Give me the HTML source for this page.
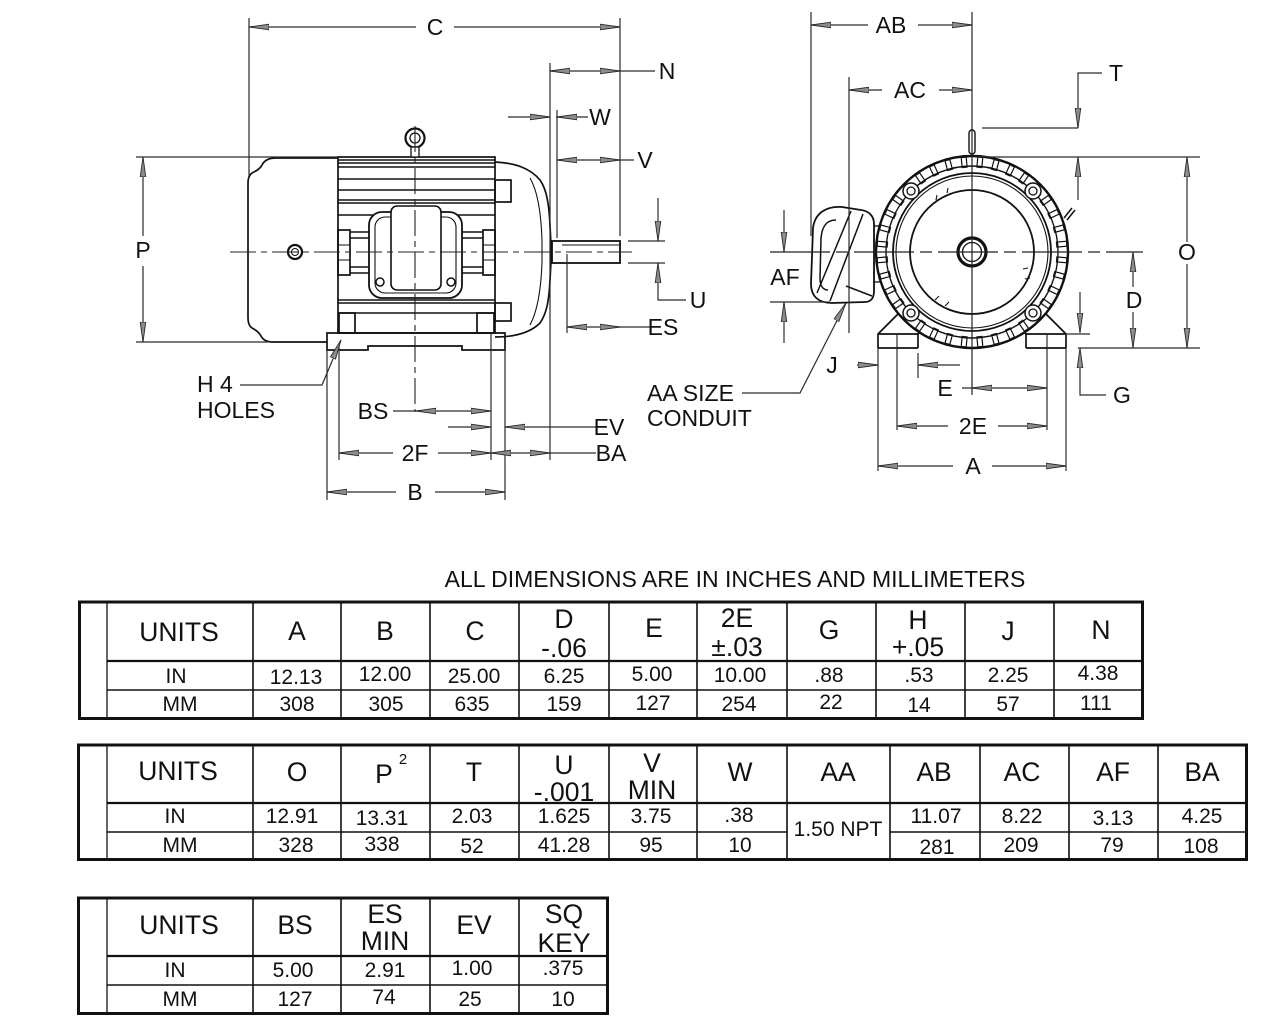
<!DOCTYPE html>
<html><head><meta charset="utf-8"><style>
html,body{margin:0;padding:0;background:#fff;}
svg{display:block;}
text{font-family:"Liberation Sans",Arial,sans-serif;fill:#111;}
.l{font-size:23px;text-anchor:middle;}
.ls{font-size:23px;text-anchor:start;}
.h{font-size:26.5px;text-anchor:middle;}
.d{font-size:21px;text-anchor:middle;}
.a{fill:none;stroke:none;marker-end:url(#ar);}
.dm{stroke:#2a2a2a;stroke-width:1.2;fill:none;}
.mo{stroke:#111;stroke-width:1.7;fill:none;}
.cl{stroke:#222;stroke-width:1.1;fill:none;stroke-dasharray:26 5 6 5;}
.tb{stroke:#111;fill:none;}
</style></head><body>
<svg width="1280" height="1027" viewBox="0 0 1280 1027" xmlns="http://www.w3.org/2000/svg">
<defs>
<marker id="ar" markerUnits="userSpaceOnUse" markerWidth="21" markerHeight="8" viewBox="0 0 21 8" refX="20" refY="4" orient="auto"><path d="M0,1.2 L20,4 L0,6.8 Z" fill="#8c8c8c" stroke="#2a2a2a" stroke-width="0.9"/></marker>
<rect id="fin" x="969.5" y="157" width="5" height="10" fill="#fff" stroke="#111" stroke-width="1.2"/>
</defs>

<!-- ================= SIDE VIEW ================= -->
<path class="mo" d="M338,158 L276,158 C268,158 264,161 262,165 C260,169 256,171 252,173 C249,175 248,178 248,183 L248,318 C248,323 249,326 252,328 C256,330 259,332 261,336 C263,340 267,342 273,342 L327,342"/>
<circle cx="295" cy="252" r="7" stroke="#111" stroke-width="2.2" fill="#fff"/>
<circle cx="295" cy="252" r="3.5" stroke="#111" stroke-width="1" fill="none"/>
<rect x="338" y="157" width="157" height="176" class="mo" stroke-width="2.2"/>
<g stroke="#111" stroke-width="1.4">
<line x1="338" y1="160" x2="495" y2="160"/>
<line x1="338" y1="163" x2="495" y2="163"/>
<line x1="338" y1="167" x2="495" y2="167"/>
<line x1="338" y1="179" x2="495" y2="179"/>
<line x1="338" y1="190" x2="495" y2="190"/>
<line x1="338" y1="200" x2="495" y2="200"/>
<line x1="338" y1="203" x2="495" y2="203"/>
<line x1="338" y1="215" x2="495" y2="215"/>
<line x1="338" y1="300" x2="495" y2="300"/>
<line x1="338" y1="303" x2="495" y2="303"/>
<line x1="338" y1="313" x2="495" y2="313"/>
<line x1="350" y1="232" x2="370" y2="232"/>
<line x1="350" y1="238" x2="370" y2="238"/>
<line x1="350" y1="267" x2="370" y2="267"/>
<line x1="350" y1="273" x2="370" y2="273"/>
<line x1="460" y1="232" x2="483" y2="232"/>
<line x1="460" y1="238" x2="483" y2="238"/>
<line x1="460" y1="267" x2="483" y2="267"/>
<line x1="460" y1="273" x2="483" y2="273"/>
</g>
<rect x="338" y="230" width="12" height="45" class="mo" stroke-width="1.3"/>
<line x1="338" y1="245" x2="350" y2="245" stroke="#111"/><line x1="338" y1="260" x2="350" y2="260" stroke="#111"/>
<rect x="483" y="230" width="12" height="45" class="mo" stroke-width="1.3"/>
<line x1="483" y1="245" x2="495" y2="245" stroke="#111"/><line x1="483" y1="260" x2="495" y2="260" stroke="#111"/>
<rect x="369" y="212" width="93" height="86" rx="13" fill="#fff" stroke="#111" stroke-width="1.8"/>
<rect x="375" y="217" width="81" height="76" rx="10" fill="none" stroke="#111" stroke-width="1.1"/>
<rect x="391" y="206" width="50" height="84" rx="6" fill="#fff" stroke="#111" stroke-width="1.6"/>
<circle cx="380" cy="282" r="4" stroke="#111" stroke-width="1.5" fill="#fff"/>
<circle cx="451" cy="282" r="4" stroke="#111" stroke-width="1.5" fill="#fff"/>
<rect x="339" y="313" width="16" height="20" class="mo" stroke-width="1.3"/>
<rect x="477" y="313" width="17" height="20" class="mo" stroke-width="1.3"/>
<path class="mo" d="M495,162 C515,163 530,168 540,180 C547,190 549,205 550,225 L551,245 L551,262 L550,280 C549,300 547,313 540,323 C530,333 515,337 495,337"/>
<path stroke="#111" stroke-width="1.1" fill="none" d="M530,178 C537,190 541,210 542,240 L542,262 C541,292 537,312 530,325"/>
<rect x="495" y="180" width="16" height="22" class="mo" stroke-width="1.3"/>
<rect x="495" y="303" width="16" height="18" class="mo" stroke-width="1.3"/>
<rect x="552" y="241" width="68" height="22" fill="#fff" stroke="#111" stroke-width="1.8"/>
<line x1="562" y1="245" x2="620" y2="245" stroke="#111" stroke-width="1.1"/>
<path class="mo" stroke-width="1.8" d="M327,333 H505 V350 H462 V346 H368 V350 H327 Z"/>
<circle cx="415" cy="138" r="9.5" fill="#fff" stroke="#111" stroke-width="2.2"/>
<circle cx="415" cy="138" r="5" fill="none" stroke="#111" stroke-width="1.3"/>
<rect x="411" y="147" width="8" height="10" fill="#fff" stroke="#111" stroke-width="1.3"/>

<line class="cl" x1="230" y1="252" x2="632" y2="252"/>
<line class="cl" x1="415" y1="126" x2="415" y2="412"/>

<g class="dm">
<line x1="249" y1="18" x2="249" y2="176"/>
<line x1="620" y1="18" x2="620" y2="236"/>
<line x1="249" y1="27" x2="416" y2="27"/><line x1="454" y1="27" x2="620" y2="27"/>
<line x1="550" y1="63" x2="550" y2="460"/>
<line x1="550" y1="71" x2="655" y2="71"/>
<line x1="508" y1="117" x2="550" y2="117"/><line x1="556" y1="117" x2="588" y2="117"/>
<line x1="557" y1="110" x2="557" y2="238"/>
<line x1="557" y1="160" x2="634" y2="160"/>
<line x1="628" y1="241" x2="665" y2="241"/><line x1="628" y1="263" x2="665" y2="263"/>
<line x1="658" y1="198" x2="658" y2="241"/>
<polyline points="658,263 658,300 686,300"/>
<line x1="567" y1="254" x2="567" y2="333"/>
<line x1="567" y1="327" x2="651" y2="327"/>
<line x1="136" y1="157" x2="338" y2="157"/>
<line x1="136" y1="342" x2="268" y2="342"/>
<line x1="143" y1="157" x2="143" y2="236"/><line x1="143" y1="266" x2="143" y2="342"/>
<line x1="327" y1="350" x2="327" y2="500"/>
<line x1="339" y1="343" x2="339" y2="460"/>
<line x1="491" y1="333" x2="491" y2="460"/>
<line x1="505" y1="350" x2="505" y2="500"/>
<line x1="393" y1="411" x2="491" y2="411"/>
<line x1="448" y1="427" x2="491" y2="427"/><line x1="505" y1="427" x2="597" y2="427"/>
<line x1="339" y1="453" x2="393" y2="453"/><line x1="438" y1="453" x2="596" y2="453"/>
<line x1="327" y1="492" x2="396" y2="492"/><line x1="435" y1="492" x2="505" y2="492"/>
<polyline points="240,385 322,385 341,340"/>
<polyline points="742,393 800,393 846,303"/>
</g>
<g>
<path class="a" d="M250,27h-1"/><path class="a" d="M619,27h1"/>
<path class="a" d="M551,71h-1"/><path class="a" d="M619,71h1"/>
<path class="a" d="M549,117h1"/><path class="a" d="M558,117h-1"/>
<path class="a" d="M558,160h-1"/><path class="a" d="M619,160h1"/>
<path class="a" d="M658,240v1"/><path class="a" d="M658,264v-1"/>
<path class="a" d="M568,327h-1"/><path class="a" d="M619,327h1"/>
<path class="a" d="M143,158v-1"/><path class="a" d="M143,341v1"/>
<path class="a" d="M417,411h-1"/><path class="a" d="M490,411h1"/>
<path class="a" d="M490,427h1"/><path class="a" d="M506,427h-1"/>
<path class="a" d="M340,453h-1"/><path class="a" d="M490,453h1"/>
<path class="a" d="M492,453h-1"/><path class="a" d="M549,453h1"/>
<path class="a" d="M328,492h-1"/><path class="a" d="M504,492h1"/>
<path class="a" d="M340.6,340.9 L341,340"/>
<path class="a" d="M845.5,303.9 L846,303"/>
</g>
<text class="l" x="435" y="35">C</text>
<text class="l" x="667" y="79">N</text>
<text class="l" x="600" y="125">W</text>
<text class="l" x="645" y="168">V</text>
<text class="l" x="698" y="308">U</text>
<text class="l" x="663" y="335">ES</text>
<text class="l" x="143" y="258">P</text>
<text class="l" x="373" y="419">BS</text>
<text class="l" x="609" y="435">EV</text>
<text class="l" x="415" y="461">2F</text>
<text class="l" x="611" y="461">BA</text>
<text class="l" x="415" y="500">B</text>
<text class="ls" x="197" y="392">H 4</text>
<text class="ls" x="197" y="418">HOLES</text>
<text class="ls" x="647" y="401">AA SIZE</text>
<text class="ls" x="647" y="426">CONDUIT</text>

<!-- ================= FRONT VIEW ================= -->
<g class="mo" stroke-width="1.6">
<path d="M878,348 V334 L899,313 L912,306"/>
<path d="M878,334 H918 V348 M878,348 H918"/>
<path d="M918,334 L930,322"/>
<path d="M1066,348 V334 L1045,313 L1032,306"/>
<path d="M1066,334 H1026 V348 M1066,348 H1026"/>
<path d="M1026,334 L1014,322"/>
</g>
<g stroke="#111" fill="#fff" stroke-width="1.8">
<rect x="874" y="226" width="12" height="56" stroke-width="1.3"/>
<path d="M842,207 C826,206 815,213 813,228 L811,284 C811,296 818,303 832,303 L865,302 C871,302 874,298 874,291 L874,224 C874,216 869,211 861,210 Z"/>
</g>
<g stroke="#111" fill="none" stroke-width="1.5">
<path d="M836,220 C826,220 822,227 821,238 L820,278 C820,286 823,290 828,290"/>
<path d="M851,211 L817,293"/>
<path d="M863,214 L830,301"/>
<path d="M846,286 L872,296"/>
<line x1="876" y1="236" x2="884" y2="236" stroke-width="1.1"/>
<line x1="876" y1="246" x2="884" y2="246" stroke-width="1.1"/>
<line x1="876" y1="256" x2="884" y2="256" stroke-width="1.1"/>
<line x1="876" y1="266" x2="884" y2="266" stroke-width="1.1"/>
</g>
<circle cx="972" cy="252" r="96" fill="#fff" stroke="#111" stroke-width="2.4"/>
<g>
<use href="#fin" transform="rotate(5 972 252)"/><use href="#fin" transform="rotate(15 972 252)"/>
<use href="#fin" transform="rotate(25 972 252)"/><use href="#fin" transform="rotate(35 972 252)"/>
<use href="#fin" transform="rotate(55 972 252)"/><use href="#fin" transform="rotate(65 972 252)"/>
<use href="#fin" transform="rotate(75 972 252)"/><use href="#fin" transform="rotate(85 972 252)"/>
<use href="#fin" transform="rotate(95 972 252)"/><use href="#fin" transform="rotate(105 972 252)"/>
<use href="#fin" transform="rotate(115 972 252)"/><use href="#fin" transform="rotate(125 972 252)"/>
<use href="#fin" transform="rotate(145 972 252)"/><use href="#fin" transform="rotate(155 972 252)"/>
<use href="#fin" transform="rotate(165 972 252)"/><use href="#fin" transform="rotate(175 972 252)"/>
<use href="#fin" transform="rotate(185 972 252)"/><use href="#fin" transform="rotate(195 972 252)"/>
<use href="#fin" transform="rotate(205 972 252)"/><use href="#fin" transform="rotate(215 972 252)"/>
<use href="#fin" transform="rotate(235 972 252)"/><use href="#fin" transform="rotate(245 972 252)"/>
<use href="#fin" transform="rotate(255 972 252)"/><use href="#fin" transform="rotate(265 972 252)"/>
<use href="#fin" transform="rotate(275 972 252)"/><use href="#fin" transform="rotate(285 972 252)"/>
<use href="#fin" transform="rotate(295 972 252)"/><use href="#fin" transform="rotate(305 972 252)"/>
<use href="#fin" transform="rotate(325 972 252)"/><use href="#fin" transform="rotate(335 972 252)"/>
<use href="#fin" transform="rotate(345 972 252)"/><use href="#fin" transform="rotate(355 972 252)"/>
</g>
<g fill="none" stroke="#111">
<circle cx="972" cy="252" r="86" stroke-width="1.4"/>
<circle cx="972" cy="252" r="79" stroke-width="1.8"/>
<circle cx="972" cy="252" r="76" stroke-width="1.1"/>
<circle cx="972" cy="252" r="62" stroke-width="1.8"/>
<path d="M936,200 l1,-5 M947,193 l1,-5 M1028,268 l-5,1 M1030,278 l-5,1 M935,300 l4,-4 M945,306 l4,-4" stroke-width="1.1"/>
</g>
<g stroke="#111" fill="#fff">
<circle cx="911" cy="191" r="8" stroke-width="1.5"/><circle cx="911" cy="191" r="4" stroke-width="1.3"/>
<circle cx="1033" cy="191" r="8" stroke-width="1.5"/><circle cx="1033" cy="191" r="4" stroke-width="1.3"/>
<circle cx="911" cy="313" r="8" stroke-width="1.5"/><circle cx="911" cy="313" r="4" stroke-width="1.3"/>
<circle cx="1033" cy="313" r="8" stroke-width="1.5"/><circle cx="1033" cy="313" r="4" stroke-width="1.3"/>
</g>
<rect x="969" y="130" width="6" height="24" rx="3" fill="#fff" stroke="#111" stroke-width="1.4"/>
<path d="M1064,218 L1072,208 M1067,220 L1075,210" stroke="#111" stroke-width="1.5"/>
<circle cx="972" cy="252" r="14" fill="#fff" stroke="#111" stroke-width="3.2"/>
<circle cx="972" cy="252" r="9.5" fill="none" stroke="#111" stroke-width="1.3"/>

<line x1="972" y1="12" x2="972" y2="395" stroke="#222" stroke-width="1.2"/>
<line x1="770" y1="252" x2="1143" y2="252" stroke="#222" stroke-width="1.2" stroke-dasharray="60 6 12 6"/>

<g class="dm">
<line x1="811" y1="12" x2="811" y2="236"/>
<line x1="811" y1="25" x2="868" y2="25"/><line x1="918" y1="25" x2="972" y2="25"/>
<line x1="849" y1="77" x2="849" y2="333"/>
<line x1="849" y1="90" x2="882" y2="90"/><line x1="939" y1="90" x2="972" y2="90"/>
<polyline points="1102,73 1078,73 1078,128"/>
<line x1="982" y1="128" x2="1078" y2="128"/>
<line x1="975" y1="157" x2="1200" y2="157"/>
<line x1="1078" y1="157" x2="1078" y2="200"/>
<line x1="1187" y1="157" x2="1187" y2="242"/><line x1="1187" y1="264" x2="1187" y2="348"/>
<line x1="1078" y1="348" x2="1200" y2="348"/>
<line x1="1133" y1="252" x2="1133" y2="287"/><line x1="1133" y1="312" x2="1133" y2="348"/>
<line x1="1080" y1="292" x2="1080" y2="333"/>
<line x1="1064" y1="334" x2="1090" y2="334"/>
<polyline points="1080,348 1080,395 1106,395"/>
<line x1="784" y1="210" x2="784" y2="252"/>
<line x1="784" y1="302" x2="784" y2="343"/>
<line x1="770" y1="302" x2="830" y2="302"/>
<line x1="857" y1="365" x2="878" y2="365"/>
<line x1="918" y1="365" x2="960" y2="365"/>
<line x1="918" y1="353" x2="918" y2="378"/>
<line x1="962" y1="388" x2="1047" y2="388"/>
<line x1="897" y1="333" x2="897" y2="430"/>
<line x1="1047" y1="333" x2="1047" y2="430"/>
<line x1="897" y1="426" x2="948" y2="426"/><line x1="998" y1="426" x2="1047" y2="426"/>
<line x1="878" y1="348" x2="878" y2="471"/>
<line x1="1066" y1="348" x2="1066" y2="471"/>
<line x1="878" y1="466" x2="953" y2="466"/><line x1="992" y1="466" x2="1066" y2="466"/>
</g>
<g>
<path class="a" d="M812,25h-1"/><path class="a" d="M971,25h1"/>
<path class="a" d="M850,90h-1"/><path class="a" d="M971,90h1"/>
<path class="a" d="M1078,127v1"/><path class="a" d="M1078,158v-1"/>
<path class="a" d="M1187,158v-1"/><path class="a" d="M1187,347v1"/>
<path class="a" d="M1133,253v-1"/><path class="a" d="M1133,347v1"/>
<path class="a" d="M1080,332v1"/><path class="a" d="M1080,349v-1"/>
<path class="a" d="M784,251v1"/><path class="a" d="M784,303v-1"/>
<path class="a" d="M877,365h1"/>
<path class="a" d="M919,365h-1"/>
<path class="a" d="M973,388h-1"/><path class="a" d="M1046,388h1"/>
<path class="a" d="M898,426h-1"/><path class="a" d="M1046,426h1"/>
<path class="a" d="M879,466h-1"/><path class="a" d="M1065,466h1"/>
</g>
<text class="l" x="891" y="33">AB</text>
<text class="l" x="910" y="98">AC</text>
<text class="l" x="1116" y="81">T</text>
<text class="l" x="1187" y="260">O</text>
<text class="l" x="1134" y="308">D</text>
<text class="l" x="785" y="285">AF</text>
<text class="l" x="832" y="373">J</text>
<text class="l" x="945" y="396">E</text>
<text class="l" x="1122" y="403">G</text>
<text class="l" x="973" y="434">2E</text>
<text class="l" x="973" y="474">A</text>

<!-- ================= TABLES ================= -->
<text x="735" y="587" style="font-size:23px;text-anchor:middle">ALL DIMENSIONS ARE IN INCHES AND MILLIMETERS</text>

<g class="tb">
<line x1="107" y1="601" x2="107" y2="719" stroke-width="1.3"/>
<g stroke-width="1.6">
<line x1="253" y1="601" x2="253" y2="719"/><line x1="341" y1="601" x2="341" y2="719"/>
<line x1="430" y1="601" x2="430" y2="719"/><line x1="519" y1="601" x2="519" y2="719"/>
<line x1="609" y1="601" x2="609" y2="719"/><line x1="697" y1="601" x2="697" y2="719"/>
<line x1="787" y1="601" x2="787" y2="719"/><line x1="876" y1="601" x2="876" y2="719"/>
<line x1="965" y1="601" x2="965" y2="719"/><line x1="1054" y1="601" x2="1054" y2="719"/>
<line x1="107" y1="690" x2="1143" y2="690"/>
</g>
<line x1="107" y1="661" x2="1143" y2="661" stroke-width="2.2"/>
<rect x="79.5" y="602" width="1063" height="116.5" stroke-width="3"/>
</g>
<text class="h" x="179" y="641">UNITS</text>
<text class="h" x="297" y="640">A</text>
<text class="h" x="385" y="640">B</text>
<text class="h" x="475" y="640">C</text>
<text class="h" x="564" y="628">D</text>
<text class="h" x="564" y="657">-.06</text>
<text class="h" x="654" y="637">E</text>
<text class="h" x="737" y="627">2E</text>
<text class="h" x="737" y="656">±.03</text>
<text class="h" x="829" y="639">G</text>
<text class="h" x="918" y="629">H</text>
<text class="h" x="918" y="656">+.05</text>
<text class="h" x="1008" y="640">J</text>
<text class="h" x="1101" y="639">N</text>
<text class="d" x="176" y="683">IN</text>
<text class="d" x="296" y="684">12.13</text>
<text class="d" x="385" y="681">12.00</text>
<text class="d" x="474" y="683">25.00</text>
<text class="d" x="564" y="683">6.25</text>
<text class="d" x="652" y="681">5.00</text>
<text class="d" x="740" y="682">10.00</text>
<text class="d" x="829" y="682">.88</text>
<text class="d" x="919" y="682">.53</text>
<text class="d" x="1008" y="682">2.25</text>
<text class="d" x="1098" y="680">4.38</text>
<text class="d" x="180" y="711">MM</text>
<text class="d" x="297" y="711">308</text>
<text class="d" x="386" y="711">305</text>
<text class="d" x="472" y="711">635</text>
<text class="d" x="564" y="711">159</text>
<text class="d" x="653" y="710">127</text>
<text class="d" x="739" y="711">254</text>
<text class="d" x="831" y="709">22</text>
<text class="d" x="919" y="712">14</text>
<text class="d" x="1008" y="711">57</text>
<text class="d" x="1096" y="710">111</text>

<g class="tb">
<line x1="107" y1="744" x2="107" y2="860" stroke-width="1.3"/>
<g stroke-width="1.6">
<line x1="253" y1="744" x2="253" y2="860"/><line x1="341" y1="744" x2="341" y2="860"/>
<line x1="430" y1="744" x2="430" y2="860"/><line x1="519" y1="744" x2="519" y2="860"/>
<line x1="609" y1="744" x2="609" y2="860"/><line x1="697" y1="744" x2="697" y2="860"/>
<line x1="787" y1="744" x2="787" y2="860"/><line x1="890" y1="744" x2="890" y2="860"/>
<line x1="980" y1="744" x2="980" y2="860"/><line x1="1069" y1="744" x2="1069" y2="860"/>
<line x1="1158" y1="744" x2="1158" y2="860"/>
<line x1="107" y1="832" x2="787" y2="832"/><line x1="890" y1="832" x2="1247" y2="832"/>
</g>
<line x1="107" y1="803" x2="1247" y2="803" stroke-width="2.2"/>
<rect x="78.5" y="745" width="1168" height="114.5" stroke-width="3"/>
</g>
<text class="h" x="178" y="780">UNITS</text>
<text class="h" x="297" y="781">O</text>
<text class="h" x="384" y="783">P</text>
<text x="403" y="764" style="font-size:15px;text-anchor:middle">2</text>
<text class="h" x="474" y="781">T</text>
<text class="h" x="564" y="774">U</text>
<text class="h" x="564" y="801">-.001</text>
<text class="h" x="652" y="772">V</text>
<text class="h" x="652" y="799">MIN</text>
<text class="h" x="740" y="781">W</text>
<text class="h" x="838" y="781">AA</text>
<text class="h" x="934" y="781">AB</text>
<text class="h" x="1022" y="781">AC</text>
<text class="h" x="1113" y="781">AF</text>
<text class="h" x="1202" y="781">BA</text>
<text class="d" x="175" y="823">IN</text>
<text class="d" x="292" y="823">12.91</text>
<text class="d" x="382" y="825">13.31</text>
<text class="d" x="472" y="823">2.03</text>
<text class="d" x="564" y="823">1.625</text>
<text class="d" x="651" y="823">3.75</text>
<text class="d" x="739" y="822">.38</text>
<text class="d" x="838" y="836">1.50 NPT</text>
<text class="d" x="936" y="823">11.07</text>
<text class="d" x="1022" y="823">8.22</text>
<text class="d" x="1113" y="825">3.13</text>
<text class="d" x="1202" y="823">4.25</text>
<text class="d" x="180" y="852">MM</text>
<text class="d" x="296" y="852">328</text>
<text class="d" x="382" y="851">338</text>
<text class="d" x="472" y="853">52</text>
<text class="d" x="564" y="852">41.28</text>
<text class="d" x="651" y="852">95</text>
<text class="d" x="740" y="852">10</text>
<text class="d" x="937" y="854">281</text>
<text class="d" x="1021" y="852">209</text>
<text class="d" x="1112" y="852">79</text>
<text class="d" x="1201" y="853">108</text>

<g class="tb">
<line x1="107" y1="897" x2="107" y2="1014" stroke-width="1.3"/>
<g stroke-width="1.6">
<line x1="253" y1="897" x2="253" y2="1014"/><line x1="341" y1="897" x2="341" y2="1014"/>
<line x1="430" y1="897" x2="430" y2="1014"/><line x1="519" y1="897" x2="519" y2="1014"/>
<line x1="107" y1="985" x2="608" y2="985"/>
</g>
<line x1="107" y1="956" x2="608" y2="956" stroke-width="2.2"/>
<rect x="78.5" y="898" width="529" height="115.5" stroke-width="3"/>
</g>
<text class="h" x="179" y="934">UNITS</text>
<text class="h" x="295" y="934">BS</text>
<text class="h" x="385" y="923">ES</text>
<text class="h" x="385" y="950">MIN</text>
<text class="h" x="474" y="934">EV</text>
<text class="h" x="564" y="923">SQ</text>
<text class="h" x="564" y="952">KEY</text>
<text class="d" x="175" y="977">IN</text>
<text class="d" x="293" y="977">5.00</text>
<text class="d" x="385" y="977">2.91</text>
<text class="d" x="472" y="975">1.00</text>
<text class="d" x="563" y="975">.375</text>
<text class="d" x="180" y="1006">MM</text>
<text class="d" x="295" y="1006">127</text>
<text class="d" x="384" y="1004">74</text>
<text class="d" x="470" y="1006">25</text>
<text class="d" x="563" y="1006">10</text>
</svg>
</body></html>
